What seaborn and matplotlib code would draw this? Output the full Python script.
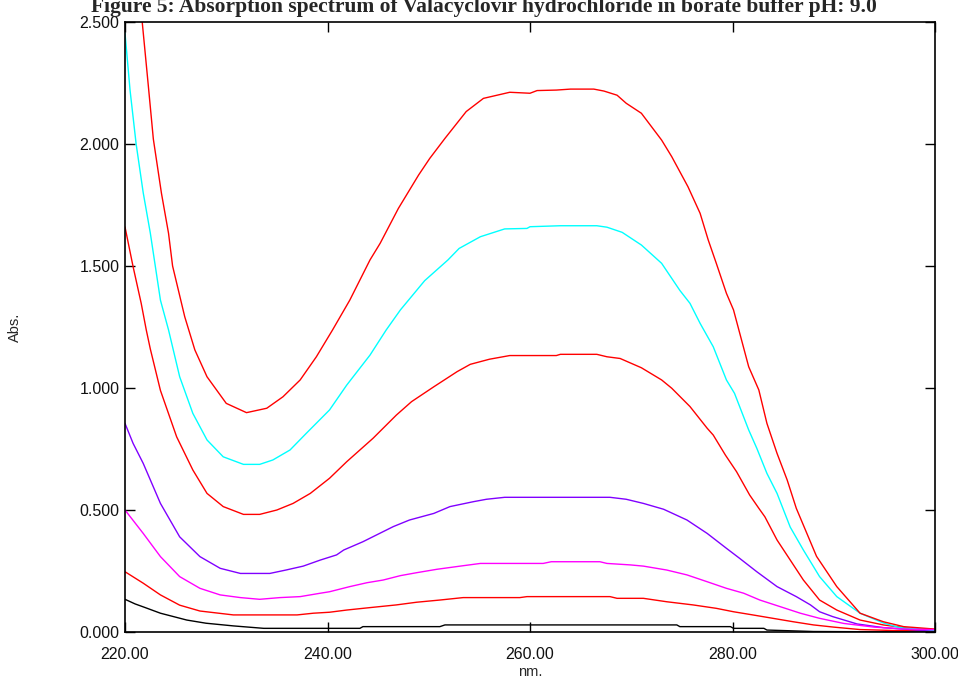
import matplotlib
matplotlib.use("Agg")
import matplotlib.pyplot as plt
import seaborn as sns
import pandas as pd

# Absorbance spectra of Valacyclovir HCl at increasing concentration (borate buffer pH 9.0)
wl_1 = [220.0, 221.0, 221.7, 222.3, 222.8, 223.6, 224.3, 224.7, 225.9, 226.9, 228.1, 230.0, 232.0,
        234.0, 235.6, 237.3, 238.9, 240.5, 242.2, 244.2, 245.2, 247.0, 249.0, 250.1, 251.6, 253.7,
        255.4, 258.0, 260.0, 260.7, 262.6, 264.0, 266.3, 267.3, 268.6, 269.5, 271.0, 273.0, 274.0,
        275.6, 276.8, 277.6, 278.4, 279.4, 280.1, 281.6, 282.6, 283.4, 284.4, 285.4, 286.3, 288.3,
        290.3, 292.6, 294.9, 296.9, 300.0]
abs_1 = [3.25, 2.80, 2.50, 2.24, 2.02, 1.798, 1.634, 1.50, 1.292, 1.156, 1.046, 0.937, 0.899,
         0.917, 0.964, 1.033, 1.128, 1.238, 1.36, 1.525, 1.593, 1.736, 1.873, 1.941, 2.023, 2.133,
         2.187, 2.212, 2.208, 2.219, 2.221, 2.225, 2.225, 2.217, 2.200, 2.167, 2.126, 2.016, 1.948,
         1.825, 1.716, 1.607, 1.511, 1.388, 1.320, 1.087, 0.992, 0.855, 0.732, 0.623, 0.507, 0.31,
         0.186, 0.077, 0.042, 0.022, 0.012]

wl_2 = [220.0, 220.5, 221.1, 221.8, 222.5, 223.5, 224.3, 225.4, 226.7, 228.1, 229.7, 231.7, 233.3,
        234.6, 236.3, 237.9, 240.2, 241.9, 244.2, 245.8, 247.2, 249.6, 251.9, 253.0, 255.1, 257.5,
        259.7, 260.0, 263.0, 266.6, 267.6, 269.1, 271.0, 273.0, 274.8, 275.8, 276.8, 278.1, 279.4,
        280.2, 281.6, 282.4, 283.4, 284.4, 285.7, 287.0, 288.6, 290.3, 292.6, 294.9, 296.5, 300.0]
abs_2 = [2.455, 2.22, 2.00, 1.80, 1.635, 1.36, 1.238, 1.046, 0.896, 0.787, 0.718, 0.687, 0.687,
         0.705, 0.746, 0.814, 0.91, 1.012, 1.135, 1.238, 1.32, 1.44, 1.525, 1.572, 1.62, 1.652,
         1.654, 1.661, 1.665, 1.665, 1.659, 1.638, 1.586, 1.511, 1.40, 1.347, 1.265, 1.169, 1.033,
         0.978, 0.828, 0.753, 0.65, 0.568, 0.43, 0.336, 0.227, 0.145, 0.077, 0.037, 0.018, 0.008]

wl_3 = [220.0, 220.8, 221.6, 222.1, 222.5, 223.5, 225.1, 226.7, 228.1, 229.7, 231.7, 233.3, 235.0,
        236.6, 238.3, 240.2, 241.9, 244.5, 246.8, 248.3, 250.5, 252.8, 254.1, 256.0, 258.0, 262.6,
        263.0, 266.6, 267.6, 268.9, 271.0, 273.0, 274.0, 275.8, 277.5, 278.1, 279.3, 280.4, 281.7,
        282.6, 283.2, 284.4, 285.7, 287.0, 288.6, 290.3, 292.6, 294.9, 297.5, 300.0]
abs_3 = [1.66, 1.497, 1.347, 1.238, 1.16, 0.99, 0.80, 0.664, 0.568, 0.514, 0.482, 0.482, 0.50,
         0.527, 0.568, 0.63, 0.698, 0.794, 0.889, 0.944, 1.005, 1.067, 1.097, 1.118, 1.133, 1.133,
         1.138, 1.138, 1.128, 1.121, 1.083, 1.033, 0.999, 0.924, 0.835, 0.807, 0.725, 0.657, 0.561,
         0.507, 0.472, 0.377, 0.295, 0.213, 0.131, 0.09, 0.049, 0.029, 0.015, 0.01]

wl_4 = [220.0, 220.8, 221.8, 223.5, 225.4, 227.4, 229.4, 231.4, 234.3, 235.9, 237.6, 239.3, 240.9,
        241.6, 243.5, 246.5, 248.1, 250.5, 252.1, 254.4, 255.7, 257.5, 267.9, 269.5, 271.2, 273.2,
        275.5, 277.5, 279.4, 280.7, 282.4, 284.4, 286.3, 287.7, 288.6, 289.9, 292.3, 294.9, 298.2,
        300.0]
abs_4 = [0.855, 0.773, 0.691, 0.527, 0.39, 0.309, 0.261, 0.24, 0.24, 0.254, 0.27, 0.295, 0.316,
         0.336, 0.37, 0.432, 0.459, 0.486, 0.514, 0.534, 0.544, 0.552, 0.552, 0.544, 0.527, 0.503,
         0.459, 0.404, 0.343, 0.302, 0.247, 0.186, 0.145, 0.111, 0.083, 0.063, 0.033, 0.018, 0.008,
         0.006]

wl_5 = [220.0, 221.8, 223.5, 225.4, 227.4, 229.4, 231.4, 233.3, 235.3, 237.3, 239.3, 240.2, 242.2,
        243.9, 245.5, 247.2, 248.8, 250.8, 253.1, 255.1, 261.3, 262.1, 266.9, 267.6, 269.9, 271.2,
        273.5, 275.5, 277.5, 279.4, 281.1, 282.7, 284.7, 286.7, 288.6, 291.0, 294.0, 297.0, 300.0]
abs_5 = [0.50, 0.404, 0.309, 0.227, 0.179, 0.152, 0.141, 0.134, 0.141, 0.145, 0.159, 0.165, 0.186,
         0.202, 0.213, 0.231, 0.243, 0.257, 0.27, 0.281, 0.281, 0.288, 0.288, 0.281, 0.275, 0.27,
         0.254, 0.234, 0.206, 0.179, 0.159, 0.131, 0.104, 0.077, 0.056, 0.035, 0.02, 0.012, 0.01]

wl_6 = [220.0, 221.8, 223.5, 225.4, 227.4, 230.7, 237.0, 238.6, 240.2, 241.9, 244.2, 246.8, 248.8,
        251.1, 253.4, 259.0, 259.7, 267.9, 268.6, 271.2, 273.5, 276.1, 278.4, 280.1, 282.0, 284.0,
        286.0, 288.0, 290.0, 292.6, 296.0, 300.0]
abs_6 = [0.247, 0.20, 0.152, 0.11, 0.086, 0.07, 0.07, 0.077, 0.081, 0.09, 0.10, 0.111, 0.122,
         0.131, 0.141, 0.141, 0.145, 0.145, 0.138, 0.138, 0.124, 0.111, 0.097, 0.083, 0.07, 0.056,
         0.042, 0.029, 0.02, 0.01, 0.006, 0.008]

wl_7 = [220.0, 221.0, 222.0, 223.5, 226.1, 228.0, 230.7, 233.7, 243.2, 243.5, 251.1, 251.6, 274.5,
        274.8, 279.8, 280.1, 283.1, 283.4, 288.0, 300.0]
abs_7 = [0.134, 0.115, 0.10, 0.077, 0.049, 0.036, 0.025, 0.015, 0.015, 0.022, 0.022, 0.029, 0.029,
         0.022, 0.022, 0.015, 0.015, 0.008, 0.002, 0.0]

spectra = [
    (wl_7, abs_7, "#000000"),
    (wl_6, abs_6, "#ff0000"),
    (wl_4, abs_4, "#8000ff"),
    (wl_3, abs_3, "#ff0000"),
    (wl_2, abs_2, "#00ffff"),
    (wl_1, abs_1, "#ff0000"),
    (wl_5, abs_5, "#ff00ff"),
]

x_ticks = [220, 240, 260, 280, 300]
x_tick_labels = ["220.00", "240.00", "260.00", "280.00", "300.00"]
y_ticks = [0.0, 0.5, 1.0, 1.5, 2.0, 2.5]
y_tick_labels = ["0.000", "0.500", "1.000", "1.500", "2.000", "2.500"]

title_text = "Figure 5: Absorption spectrum of Valacyclovir hydrochloride in borate buffer pH: 9.0"

sns.set_style("white")
plt.rcParams["font.family"] = ["Liberation Sans", "DejaVu Sans"]

W, H = 958, 680
fig = plt.figure(figsize=(W / 100, H / 100), dpi=100)
ax = fig.add_axes([125 / W, 1 - 632 / H, (935 - 125) / W, (632 - 22) / H])

for wl, ab, color in spectra:
    df = pd.DataFrame({"nm": wl, "abs": ab})
    sns.lineplot(data=df, x="nm", y="abs", ax=ax, color=color, linewidth=1.0,
                 estimator=None, sort=False)

ax.set_xlim(220, 300)
ax.set_ylim(0, 2.5)
ax.set_xticks(x_ticks)
ax.set_xticklabels(x_tick_labels)
ax.set_yticks(y_ticks)
ax.set_yticklabels(y_tick_labels)
ax.set_xlabel("")
ax.set_ylabel("")

for side in ["left", "right", "top", "bottom"]:
    ax.spines[side].set_visible(True)
    ax.spines[side].set_color("black")
    ax.spines[side].set_linewidth(1.2)

ax.tick_params(axis="both", which="major", direction="in", length=7, width=1.0,
               color="black", labelsize=11.5, labelcolor="#111111",
               top=True, right=True, bottom=True, left=True)
ax.tick_params(axis="x", pad=11)
ax.tick_params(axis="y", pad=4)

fig.text(484 / W, 1 - 12 / H, title_text, ha="center", va="baseline",
         fontsize=15.5, fontweight="bold", family=["Liberation Serif", "DejaVu Serif"])
fig.text(530 / W, 1 - 672 / H, "nm.", ha="center", va="center", fontsize=10.5)
fig.text(15 / W, 1 - 327 / H, "Abs.", ha="center", va="center", rotation=90, fontsize=10.5)

fig.savefig("out.png", dpi=100, facecolor="white")
